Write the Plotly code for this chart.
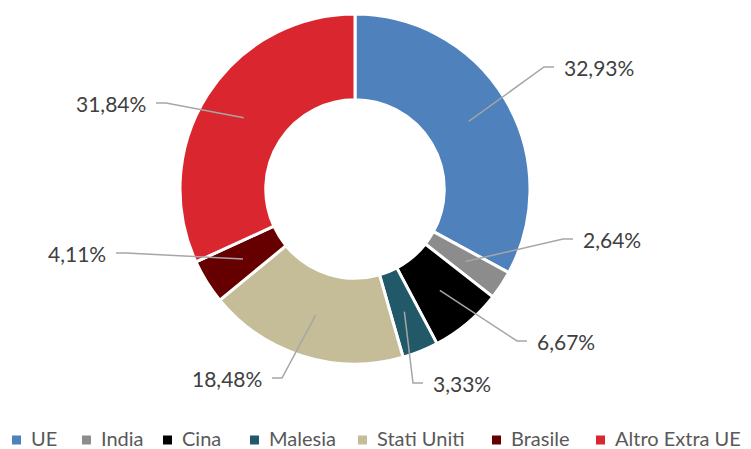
import math
import plotly.graph_objects as go

# ---- data ----
categories = ["UE", "India", "Cina", "Malesia", "Stati Uniti", "Brasile", "Altro Extra UE"]
shares = [32.93, 2.64, 6.67, 3.33, 18.48, 4.11, 31.84]
colors = ["#4F81BD", "#8C8C8C", "#000000", "#215968", "#C4BD97", "#660000", "#D9262F"]

# ---- layout constants (pixels) ----
W, H = 751, 449
CX, CY = 355, 189
R_OUT, HOLE = 175, 0.51
R_MID = R_OUT * (1 + HOLE) / 2
# label elbow positions and side (layout only)
label_layout = [
    ((544, 67), "right"),
    ((563, 239), "right"),
    ((517, 341), "right"),
    ((413, 383), "right"),
    ((282, 378), "left"),
    ((126, 253), "left"),
    ((166, 103), "left"),
]
HSEG, TGAP = 10, 8
LINE_COLOR = "#A6A6A6"
TEXT_COLOR = "#404040"
LEGEND_COLOR = "#595959"
FONT = "Lato"
# legend layout: left x of each swatch, swatch size, row centre
legend_x = [12, 82, 163, 250, 358, 492, 596]
LEG_Y, SW, LEG_TGAP = 440, 9, 8


def px(x):
    return x / W


def py(y):
    return 1 - y / H


fig = go.Figure(
    go.Pie(
        labels=categories,
        values=shares,
        hole=HOLE,
        sort=False,
        direction="clockwise",
        rotation=0,
        marker=dict(colors=colors, line=dict(color="white", width=3)),
        textinfo="none",
        hoverinfo="label+percent",
        showlegend=False,
        domain=dict(x=[px(CX - R_OUT), px(CX + R_OUT)], y=[py(CY + R_OUT), py(CY - R_OUT)]),
    )
)

shapes = []
annotations = []
total = sum(shares)
cum = 0.0
for val, ((ex, ey), side) in zip(shares, label_layout):
    mid = (cum + val / 2) / total * 2 * math.pi
    cum += val
    sx = CX + R_MID * math.sin(mid)
    sy = CY - R_MID * math.cos(mid)
    hx = ex + HSEG if side == "right" else ex - HSEG
    shapes.append(dict(type="path", xref="paper", yref="paper",
                       path=f"M {px(sx)} {py(sy)} L {px(ex)} {py(ey)} L {px(hx)} {py(ey)}",
                       line=dict(color=LINE_COLOR, width=1.5)))
    tx = hx + TGAP if side == "right" else hx - TGAP
    annotations.append(dict(
        x=px(tx), y=py(ey), xref="paper", yref="paper",
        xanchor="left" if side == "right" else "right", yanchor="middle",
        text=f"{val:.2f}%".replace(".", ","), showarrow=False,
        font=dict(family=FONT, size=21, color=TEXT_COLOR)))

# custom legend
for name, col, lx in zip(categories, colors, legend_x):
    shapes.append(dict(type="rect", xref="paper", yref="paper",
                       x0=px(lx), x1=px(lx + SW), y0=py(LEG_Y + SW / 2), y1=py(LEG_Y - SW / 2),
                       fillcolor=col, line=dict(width=0)))
    annotations.append(dict(
        x=px(lx + SW + LEG_TGAP), y=py(LEG_Y - 2), xref="paper", yref="paper",
        xanchor="left", yanchor="middle", text=name, showarrow=False,
        font=dict(family=FONT, size=20, color=LEGEND_COLOR)))

fig.update_layout(
    width=W, height=H,
    margin=dict(l=0, r=0, t=0, b=0),
    paper_bgcolor="white",
    plot_bgcolor="white",
    shapes=shapes,
    annotations=annotations,
    showlegend=False,
)

fig.write_html("out.html", config={"displayModeBar": False},
               post_script="document.body.style.margin='0';")
